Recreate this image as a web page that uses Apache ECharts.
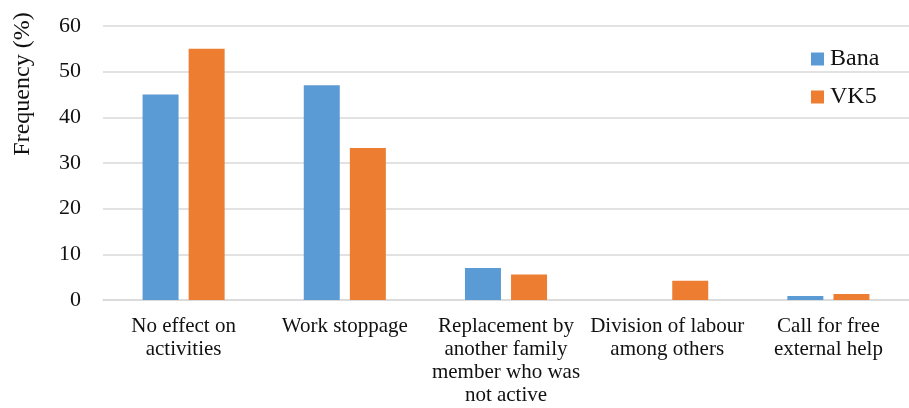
<!DOCTYPE html>
<html>
<head>
<meta charset="utf-8">
<script src="https://cdn.jsdelivr.net/npm/echarts@6/dist/echarts.min.js"></script>
<style>
  html, body { margin: 0; padding: 0; background: #fff; }
  #chart { width: 909px; height: 408px; }
</style>
</head>
<body>
<div id="chart"></div>
<script>
const categories = [
  'No effect on\nactivities',
  'Work stoppage',
  'Replacement by\nanother family\nmember who was\nnot active',
  'Division of labour\namong others',
  'Call for free\nexternal help'
]
const bana = [45, 47, 7, 0, 0.9]
const vk5 = [55, 33.3, 5.6, 4.2, 1.3]
const yTicks = [0, 10, 20, 30, 40, 50, 60]

const font = '"Liberation Serif", "Times New Roman", serif'
const chart = echarts.init(document.getElementById('chart'))

chart.setOption({
  animation: false,
  textStyle: { fontFamily: font },
  legend: {
    orient: 'vertical',
    left: 806,
    top: 42,
    itemWidth: 13,
    itemHeight: 13,
    itemGap: 14,
    icon: 'rect',
    textStyle: { fontFamily: font, fontSize: 24, color: '#111', padding: [0, 0, 0, 1] },
    data: ['Bana', 'VK5']
  },
  grid: {
    left: 103,
    width: 815,
    top: 26,
    height: 274
  },
  xAxis: {
    type: 'category',
    data: categories,
    axisLine: { lineStyle: { color: '#d9d9d9', width: 1.5 } },
    axisTick: { show: false },
    axisLabel: {
      interval: 0,
      margin: 15,
      fontFamily: font,
      fontSize: 21,
      lineHeight: 23,
      color: '#111'
    }
  },
  yAxis: {
    type: 'value',
    min: yTicks[0],
    max: yTicks[yTicks.length - 1],
    interval: 10,
    name: 'Frequency (%)',
    nameLocation: 'middle',
    nameGap: 68,
    nameTextStyle: { fontFamily: font, fontSize: 24, color: '#111', padding: [0, 0, 0, 158] },
    axisLine: { show: false },
    axisTick: { show: false },
    axisLabel: { fontFamily: font, fontSize: 22, color: '#111', margin: 22, padding: [0, 0, 4, 0] },
    splitLine: { lineStyle: { color: '#d9d9d9', width: 1.5 } }
  },
  series: [
    {
      name: 'Bana',
      type: 'bar',
      data: bana,
      barWidth: 36,
      barGap: '28%',
      itemStyle: { color: '#5b9bd5' }
    },
    {
      name: 'VK5',
      type: 'bar',
      data: vk5,
      barWidth: 36,
      barGap: '28%',
      itemStyle: { color: '#ed7d31' }
    }
  ]
})
</script>
</body>
</html>
